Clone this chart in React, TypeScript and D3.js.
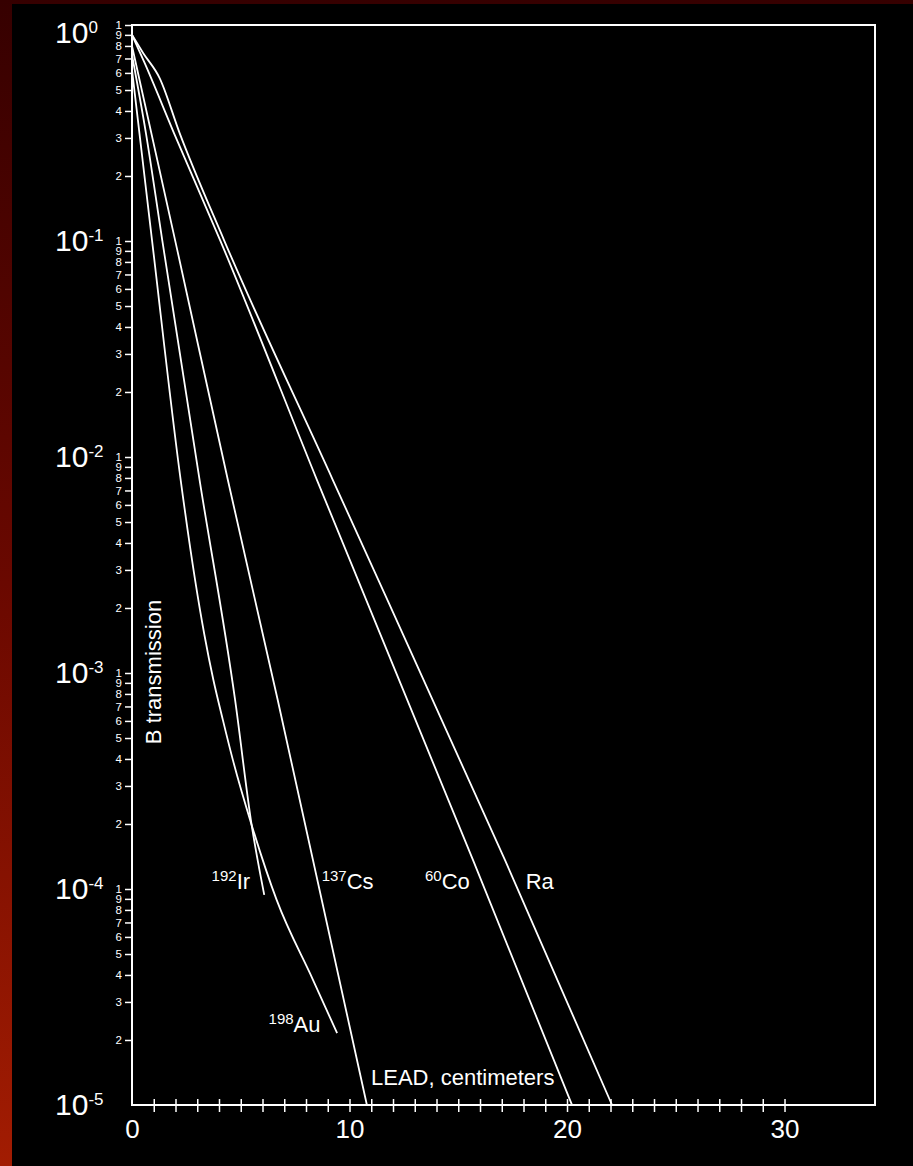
import React, { useEffect, useRef } from "react";
import * as d3 from "d3";

type Pt = [number, number];

// lead thickness (cm) -> transmission
const raPoints: Pt[] = [
  [0, 0.9], [0.51, 0.742], [1.27, 0.568], [2.19, 0.316], [4.23, 0.101],
  [9.24, 7.8e-3], [17.15, 1.36e-4], [22.07, 1.0e-5],
];
const coPoints: Pt[] = [
  [0, 0.9], [0.58, 0.667], [1.93, 0.316], [4.05, 0.101], [8.51, 7.8e-3],
  [15.68, 1.36e-4], [20.23, 1.0e-5],
];
const csPoints: Pt[] = [
  [0, 0.8], [2.08, 0.091], [4.41, 7.8e-3], [6.7, 7.5e-4], [10.8, 1.0e-5],
];
const irPoints: Pt[] = [
  [0, 0.726], [0.64, 0.316], [1.39, 0.101], [3.11, 7.8e-3], [4.74, 7.5e-4],
  [5.5, 1.98e-4], [6.08, 9.4e-5],
];
const auPoints: Pt[] = [
  [0, 0.62], [0.92, 0.101], [2.24, 7.8e-3], [2.9, 2.7e-3], [3.33, 1.5e-3], [3.74, 9.3e-4],
  [4.18, 6.05e-4], [4.64, 3.95e-4], [5.5, 1.98e-4], [6.65, 8.9e-5], [8.32, 3.8e-5], [9.43, 2.15e-5],
];

const decadeExps = [0, -1, -2, -3, -4, -5];
const mantissas = [1, 9, 8, 7, 6, 5, 4, 3, 2];
const xMinorTicks = [1, 2, 3, 4, 5, 6, 7, 8, 9, 10, 11, 12, 13, 14, 15, 16, 17, 18, 19, 20, 21, 22, 23, 24, 25, 26, 27, 28, 29, 30];
const xLabelTicks = [0, 10, 20, 30];

// isotope labels, anchored in data units
const sourceLabels = [
  { iso: "192", name: "Ir", x: 3.66, t: 1.0e-4 },
  { iso: "137", name: "Cs", x: 8.72, t: 1.0e-4 },
  { iso: "60", name: "Co", x: 13.47, t: 1.0e-4 },
  { iso: "", name: "Ra", x: 18.1, t: 1.0e-4 },
  { iso: "198", name: "Au", x: 6.28, t: 2.18e-5 },
];

const W = 913;
const H = 1166;
const FONT = "'Liberation Sans', Arial, Helvetica, sans-serif";

function App() {
  const svgRef = useRef<SVGSVGElement>(null);

  useEffect(() => {
    document.body.style.margin = "0";
    document.body.style.overflow = "hidden";

    const svg = d3.select(svgRef.current);
    svg.selectAll("*").remove();

    const x = d3.scaleLinear().domain([0, 34.16]).range([132, 875]);
    const y = d3.scaleLog().domain([1, 1e-5]).range([25, 1105]);

    // reddish scanned border + black page
    const grad = svg.append("defs").append("linearGradient")
      .attr("id", "bg").attr("x1", 0).attr("y1", 0).attr("x2", 0).attr("y2", 1);
    grad.append("stop").attr("offset", 0).attr("stop-color", "#360000");
    grad.append("stop").attr("offset", 0.5).attr("stop-color", "#6a0800");
    grad.append("stop").attr("offset", 1).attr("stop-color", "#a21c02");
    svg.append("rect").attr("width", W).attr("height", H).attr("fill", "url(#bg)");
    svg.append("rect").attr("x", 12).attr("y", 4).attr("width", W - 12).attr("height", H - 4).attr("fill", "#000");

    // y axis: mantissa ticks per decade
    const yTicks = decadeExps.slice(0, 5).flatMap((e) =>
      mantissas.map((m) => (m === 1 ? Math.pow(10, e) : m * Math.pow(10, e - 1)))
    );
    const yAxis = d3.axisLeft(y)
      .tickValues(yTicks)
      .tickSize(7)
      .tickPadding(3)
      .tickFormat((d: any) => {
        const v = +d;
        const p = Math.pow(10, Math.floor(Math.log10(v) + 1e-9));
        return String(Math.round(v / p));
      });
    const gy = svg.append("g").attr("transform", "translate(132,0)").call(yAxis);
    gy.select(".domain").remove();
    gy.selectAll(".tick line").attr("stroke", "#fff").attr("stroke-width", 1.5);
    gy.selectAll(".tick text").attr("fill", "#fff").style("font-family", FONT).style("font-size", "11.5px");

    // decade labels 10^n
    const dec = svg.append("g").attr("fill", "#fff").style("font-family", FONT);
    decadeExps.forEach((e) => {
      const t = dec.append("text")
        .attr("x", 55)
        .attr("y", Math.max(y(Math.pow(10, e)) + 10, 43))
        .style("font-size", "30px")
        .text("10");
      t.append("tspan").attr("dy", -10).style("font-size", "17px").text(String(e));
    });

    // x axis: crossing minor ticks and labels
    const xAxis = d3.axisBottom(x).tickValues(xMinorTicks).tickSize(7).tickFormat(() => "");
    const gx = svg.append("g").attr("transform", "translate(0,1105)").call(xAxis);
    gx.select(".domain").remove();
    gx.selectAll(".tick line").attr("y1", -6).attr("stroke", "#fff").attr("stroke-width", 1.5);

    const xLab = d3.axisBottom(x).tickValues(xLabelTicks).tickSize(0).tickPadding(15).tickFormat(d3.format("d"));
    const gxl = svg.append("g").attr("transform", "translate(0,1105)").call(xLab);
    gxl.select(".domain").remove();
    gxl.selectAll(".tick text").attr("fill", "#fff").style("font-family", FONT).style("font-size", "26px");

    // plot frame
    svg.append("rect")
      .attr("x", x(0)).attr("y", y(1))
      .attr("width", x(34.16) - x(0)).attr("height", y(1e-5) - y(1))
      .attr("fill", "none").attr("stroke", "#fff").attr("stroke-width", 2);

    // curves
    const line = d3.line<Pt>()
      .x((d) => x(d[0]))
      .y((d) => y(d[1]))
      .curve(d3.curveMonotoneX);
    svg.append("g")
      .selectAll("path")
      .data([raPoints, coPoints, csPoints, irPoints, auPoints])
      .join("path")
      .attr("d", (d) => line(d))
      .attr("fill", "none")
      .attr("stroke", "#fff")
      .attr("stroke-width", 1.8);

    // isotope labels
    const lab = svg.append("g").attr("fill", "#fff").style("font-family", FONT);
    sourceLabels.forEach((s) => {
      const t = lab.append("text").attr("x", x(s.x)).attr("y", y(s.t));
      if (s.iso) {
        t.append("tspan").attr("dy", -8).style("font-size", "15px").text(s.iso);
        t.append("tspan").attr("dy", 8).style("font-size", "22px").text(s.name);
      } else {
        t.append("tspan").style("font-size", "22px").text(s.name);
      }
    });

    lab.append("text")
      .attr("x", x(10.99))
      .attr("y", y(1.24e-5))
      .style("font-size", "22px")
      .text("LEAD, centimeters");

    lab.append("text")
      .attr("transform", "translate(161,672) rotate(-90)")
      .attr("text-anchor", "middle")
      .style("font-size", "22px")
      .text("B transmission");
  }, []);

  return (
    <svg
      ref={svgRef}
      width={W}
      height={H}
      style={{ position: "absolute", left: 0, top: 0, display: "block" }}
    />
  );
}

export default App;
